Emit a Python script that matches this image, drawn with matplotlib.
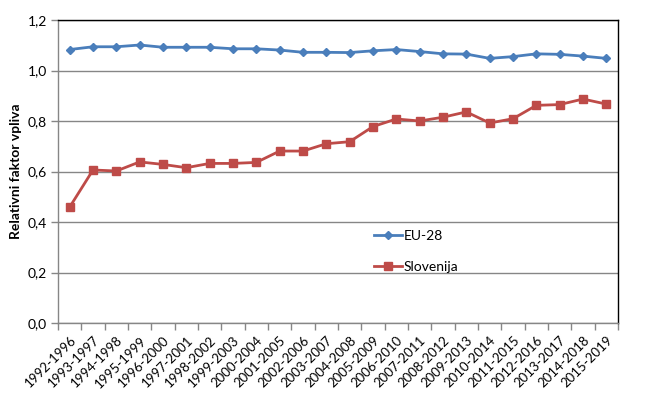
import matplotlib
matplotlib.use("Agg")
import matplotlib.pyplot as plt
from matplotlib.ticker import FuncFormatter, FixedLocator

categories = ["1992-1996", "1993-1997", "1994-1998", "1995-1999", "1996-2000", "1997-2001",
              "1998-2002", "1999-2003", "2000-2004", "2001-2005", "2002-2006", "2003-2007",
              "2004-2008", "2005-2009", "2006-2010", "2007-2011", "2008-2012", "2009-2013",
              "2010-2014", "2011-2015", "2012-2016", "2013-2017", "2014-2018", "2015-2019"]
eu28 = [1.083, 1.094, 1.094, 1.101, 1.092, 1.092, 1.092, 1.086, 1.086, 1.081, 1.072, 1.072,
        1.071, 1.078, 1.083, 1.075, 1.066, 1.065, 1.048, 1.055, 1.066, 1.064, 1.057, 1.048]
slovenija = [0.459, 0.606, 0.602, 0.638, 0.628, 0.615, 0.632, 0.632, 0.636, 0.681, 0.681, 0.710,
             0.718, 0.778, 0.808, 0.800, 0.815, 0.836, 0.792, 0.809, 0.862, 0.865, 0.887, 0.867]
y_ticks = [0.0, 0.2, 0.4, 0.6, 0.8, 1.0, 1.2]

plt.rcParams['font.family'] = ['Lato', 'DejaVu Sans']

fig = plt.figure(figsize=(6.45, 3.95), dpi=100)
ax = fig.add_axes([58/645, 72/395, 560/645, 303/395])

x = list(range(len(categories)))
ax.plot(x, eu28, color='#4A7EBB', lw=2.0, marker='D', markersize=4.5, label='EU-28', zorder=3)
ax.plot(x, slovenija, color='#BE4B48', lw=2.0, marker='s', markersize=6, label='Slovenija', zorder=3)

ax.set_xlim(-0.5, len(categories) - 0.5)
ax.set_ylim(0, 1.2)
ax.set_yticks(y_ticks)
ax.yaxis.set_major_formatter(FuncFormatter(lambda v, p: f"{v:.1f}".replace('.', ',')))
ax.grid(axis='y', color='#868686', lw=1.0)
ax.set_axisbelow(True)

ax.set_xticks(x)
ax.set_xticklabels(categories, rotation=45, ha='right', rotation_mode='anchor', fontsize=9.5)
ax.tick_params(axis='x', which='major', length=0, pad=8)
ax.xaxis.set_minor_locator(FixedLocator([i - 0.5 for i in range(len(categories) + 1)]))
ax.tick_params(axis='x', which='minor', length=5, color='#868686', width=1)
ax.tick_params(axis='y', length=5, color='#868686', width=1, labelsize=10, pad=3)

for s in ['left', 'bottom']:
    ax.spines[s].set_color('#868686')
    ax.spines[s].set_linewidth(1)
for s in ['top', 'right']:
    ax.spines[s].set_color('#000000')
    ax.spines[s].set_linewidth(1)

ax.set_ylabel('Relativni faktor vpliva', fontsize=10, fontweight='bold', labelpad=4)

ax.legend(loc='upper left', bbox_to_anchor=(0.555, 0.325), frameon=False, fontsize=10,
          handlelength=2.0, handletextpad=0.1, labelspacing=1.35, borderaxespad=0)

fig.savefig('out.png', dpi=100)
